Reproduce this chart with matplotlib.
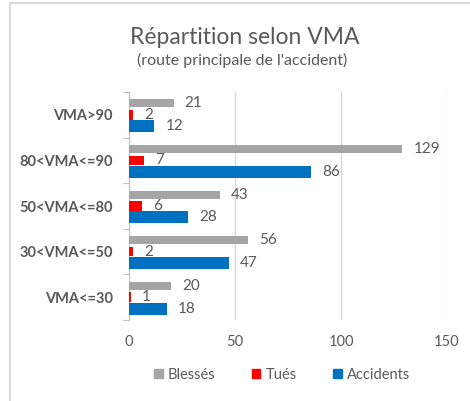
import matplotlib
matplotlib.use("Agg")
import matplotlib.pyplot as plt
from matplotlib.lines import Line2D
from matplotlib.patches import Patch

categories = ["VMA<=30", "30<VMA<=50", "50<VMA<=80", "80<VMA<=90", "VMA>90"]
blesses = [20, 56, 43, 129, 21]
tues = [1, 2, 6, 7, 2]
accidents = [18, 47, 28, 86, 12]

GRAY = "#a5a5a5"
RED = "#ff0000"
BLUE = "#0070c0"
TXT = "#595959"

plt.rcParams["font.family"] = ["Lato", "DejaVu Sans"]

fig = plt.figure(figsize=(4.7, 4.01), dpi=100)
ax = fig.add_axes([129 / 470, 1 - 320 / 401, (447 - 129) / 470, (320 - 92) / 401])

y = list(range(len(categories)))
series = [
    (blesses, 0.25, 0.175, GRAY, "Blessés"),
    (tues, 0.0, 0.21, RED, "Tués"),
    (accidents, -0.25, 0.26, BLUE, "Accidents"),
]
for vals, off, h, col, name in series:
    pos = [v + off for v in y]
    ax.barh(pos, vals, height=h, color=col, zorder=3)
    for p, v in zip(pos, vals):
        ax.annotate(str(v), (v, p), xytext=(8, 0), textcoords="offset points",
                    va="center", ha="left", fontsize=11, color=TXT)

ax.set_xlim(0, 150)
ax.set_ylim(-0.5, len(categories) - 0.5)
ax.set_xticks([0, 50, 100, 150])
ax.tick_params(axis="x", length=0, labelsize=10.5, labelcolor=TXT, pad=11)
ax.grid(axis="x", color="#d9d9d9", linewidth=1, zorder=0)

ax.set_yticks([i - 0.5 for i in range(len(categories) + 1)])
ax.set_yticklabels([])
ax.set_yticks(y, minor=True)
ax.set_yticklabels(categories, minor=True, fontweight="bold", fontsize=10.5, color=TXT)
ax.tick_params(axis="y", which="major", length=4, color="#bfbfbf", direction="out")
ax.tick_params(axis="y", which="minor", length=0, pad=11.5)

for s in ["top", "right", "bottom"]:
    ax.spines[s].set_visible(False)
ax.spines["left"].set_color("#bfbfbf")

fig.text(245 / 470, 1 - 37 / 401, "Répartition selon VMA", ha="center", va="center",
         fontsize=16.5, color=TXT)
fig.text(242 / 470, 1 - 60 / 401, "(route principale de l'accident)", ha="center",
         va="center", fontsize=11.5, color=TXT)

handles = [Patch(color=GRAY), Patch(color=RED), Patch(color=BLUE)]
fig.legend(handles, ["Blessés", "Tués", "Accidents"], loc="center",
           bbox_to_anchor=(282 / 470, 1 - 375 / 401), ncol=3, frameon=False,
           fontsize=10.5, labelcolor=TXT, handlelength=0.6, handleheight=0.6,
           handletextpad=0.35, columnspacing=2.5)

# chart border (left and top edges visible)
fig.add_artist(Line2D([10 / 470, 10 / 470], [0, 1 - 3 / 401], color="#d9d9d9", lw=1.5))
fig.add_artist(Line2D([10 / 470, 1], [1 - 3 / 401, 1 - 3 / 401], color="#d9d9d9", lw=1.5))

fig.savefig("out.png", dpi=100)
